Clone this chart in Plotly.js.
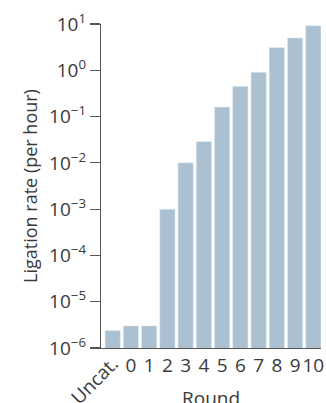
<!DOCTYPE html>
<html>
<head>
<meta charset="utf-8">
<script src="https://cdn.plot.ly/plotly-3.0.1.min.js"></script>
<style>html,body{margin:0;padding:0;background:#fff;}#chart{width:326px;height:403px;}</style>
</head>
<body>
<div id="chart"></div>
<script>
var categories = ['Uncat.', '0', '1', '2', '3', '4', '5', '6', '7', '8', '9', '10'];
var ligationRate = [2.4e-6, 3.0e-6, 3.0e-6, 1.0e-3, 1.0e-2, 2.9e-2, 0.16, 0.45, 0.91, 3.1, 5.0, 9.2];
var yTickVals = [1e-6, 1e-5, 1e-4, 1e-3, 1e-2, 1e-1, 1e0, 1e1];
var yTickLabels = ['10<sup>\u22126</sup>', '10<sup>\u22125</sup>', '10<sup>\u22124</sup>', '10<sup>\u22123</sup>',
                   '10<sup>\u22122</sup>', '10<sup>\u22121</sup>', '10<sup>0</sup>', '10<sup>1</sup>'];
var xTitle = 'Round';
var yTitle = 'Ligation rate (per hour)';

var fontFam = '"Open Sans", "Noto Sans", sans-serif';
var textCol = '#3a3a3a';
var xRange = [-0.64, 11.42];

var bars = {
  type: 'bar',
  x: categories,
  y: ligationRate,
  xaxis: 'x',
  yaxis: 'y',
  marker: {color: '#abc1d2', line: {color: '#e4ecf2', width: 0.6}},
  hoverinfo: 'none'
};
// invisible companion trace so the second (rotated-label) axis knows the categories
var ghost = {
  type: 'scatter',
  mode: 'none',
  x: categories,
  y: ligationRate,
  xaxis: 'x2',
  yaxis: 'y',
  hoverinfo: 'none',
  showlegend: false
};

var layout = {
  width: 326,
  height: 403,
  margin: {l: 101, r: 5, t: 24, b: 55},
  paper_bgcolor: '#ffffff',
  plot_bgcolor: '#ffffff',
  showlegend: false,
  bargap: 0.16,
  font: {family: fontFam, color: textCol, size: 19},
  xaxis: {
    type: 'category',
    range: xRange,
    categoryorder: 'array',
    categoryarray: categories,
    tickvals: categories.slice(1),
    ticktext: categories.slice(1),
    tickangle: 0,
    ticks: '',
    showline: true,
    linecolor: '#555555',
    linewidth: 1.2,
    showgrid: false,
    zeroline: false,
    tickfont: {family: fontFam, size: 19, color: textCol},
    automargin: false
  },
  xaxis2: {
    type: 'category',
    overlaying: 'x',
    anchor: 'y',
    side: 'bottom',
    range: xRange,
    categoryorder: 'array',
    categoryarray: categories,
    tickvals: [categories[0]],
    ticktext: [categories[0]],
    tickangle: -45,
    ticks: '',
    showline: false,
    showgrid: false,
    zeroline: false,
    tickfont: {family: fontFam, size: 19, color: textCol},
    automargin: false
  },
  yaxis: {
    type: 'log',
    range: [-6, 1],
    tickvals: yTickVals,
    ticktext: yTickLabels,
    ticks: 'outside',
    ticklen: 10,
    tickcolor: '#555555',
    tickwidth: 1.2,
    showline: true,
    linecolor: '#555555',
    linewidth: 1.2,
    showgrid: false,
    zeroline: false,
    tickfont: {family: fontFam, size: 19, color: textCol},
    title: {text: yTitle, font: {family: fontFam, size: 18, color: textCol}, standoff: 6},
    automargin: false
  },
  annotations: [{
    text: xTitle,
    xref: 'paper',
    yref: 'paper',
    x: 0.5,
    y: 0,
    xanchor: 'center',
    yanchor: 'top',
    yshift: -35,
    showarrow: false,
    font: {family: fontFam, size: 19, color: textCol}
  }]
};

Plotly.newPlot('chart', [bars, ghost], layout, {displayModeBar: false, staticPlot: true});
</script>
</body>
</html>
